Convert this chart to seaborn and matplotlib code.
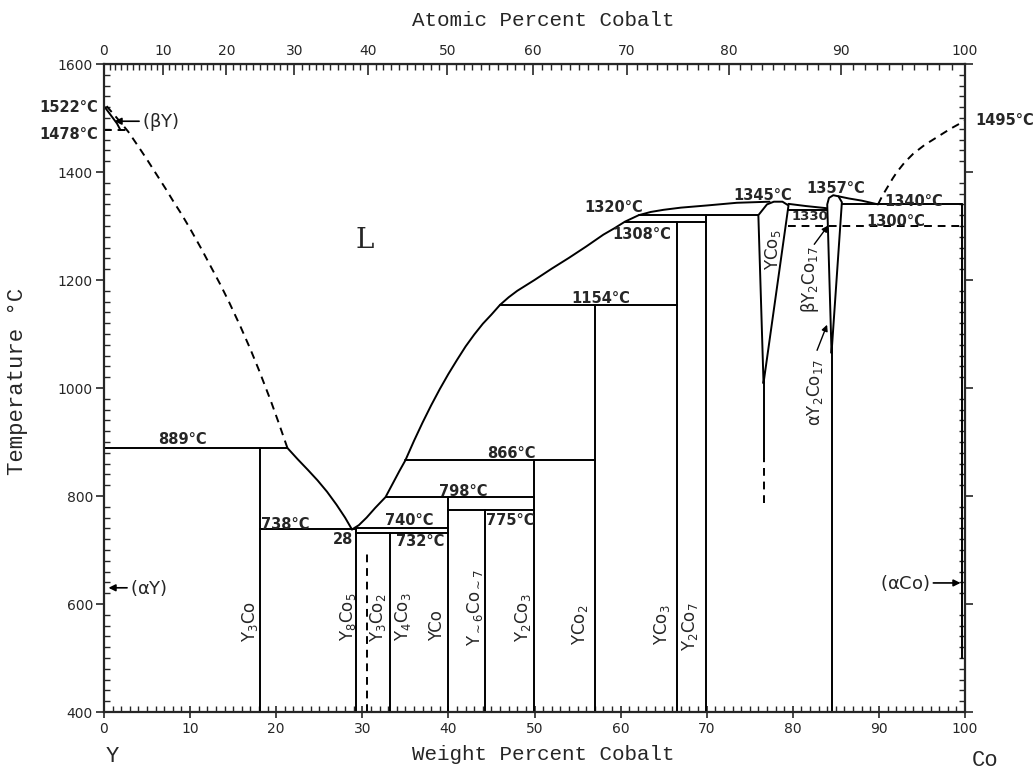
import numpy as np
import matplotlib
matplotlib.use('Agg')
import matplotlib.pyplot as plt
import matplotlib.ticker as mticker
from matplotlib import font_manager
import seaborn as sns

# ---- data: weight percent Co, temperature in deg C ----
# Y-side liquidus (dashed)
liq_y_x = [0.3, 1.5, 2.8, 4.0, 5.0, 6.0, 7.2, 8.0, 9.0, 10.0, 11.3, 12.5, 13.5, 14.5,
           15.9, 17.0, 18.0, 19.4, 20.3, 21.3]
liq_y_t = [1522, 1500, 1475, 1447, 1423, 1398, 1368, 1347, 1322, 1295, 1258, 1222, 1192, 1160,
           1112, 1072, 1033, 975, 935, 889]
# liquidus 889 -> 738 eutectic
liq_a_x = [21.3, 22.5, 23.7, 24.8, 25.9, 27.0, 28.0, 28.8]
liq_a_t = [889, 868, 848, 829, 808, 784, 760, 738]
# liquidus eutectic -> YCo5
liq_b_x = [28.8, 29.6, 30.5, 31.5, 32.7, 33.6, 34.3, 35.0, 36.0, 37.0, 38.0, 39.0, 40.0,
           41.0, 42.0, 43.0, 44.0, 45.0, 46.0, 47.0, 48.0, 50.0, 52.0, 54.0, 56.0, 58.0,
           59.3, 60.5, 62.1, 63.5, 65.0, 67.0, 70.0, 73.5, 77.3]
liq_b_t = [738, 746, 760, 778, 798, 825, 846, 866, 902, 936, 968, 998, 1026,
           1052, 1077, 1099, 1119, 1136, 1154, 1168, 1180, 1200, 1221, 1241, 1262, 1284,
           1296, 1308, 1320, 1326, 1330, 1334, 1338, 1343, 1345]
# YCo5 - Y2Co17 liquidus
liq_c_x = [79.5, 81.5, 83.9]
liq_c_t = [1341, 1337, 1333]
# Y2Co17 - Co liquidus
liq_d_x = [85.3, 86.5, 88.0, 89.9]
liq_d_t = [1355, 1351, 1347, 1340]
# Co-side liquidus (dashed)
liq_co_x = [89.9, 90.4, 91.0, 91.6, 92.1, 93.0, 94.0, 95.3, 96.8, 98.3, 100.0]
liq_co_t = [1340, 1356, 1372, 1388, 1400, 1418, 1434, 1450, 1465, 1480, 1495]

# (betaY) field
by_x = [0.0, 0.8, 1.5, 1.9]
by_t = [1522, 1505, 1490, 1478]

# YCo5 and Y2Co17 homogeneity ranges
yco5_x = [76.6, 76.0, 77.0, 77.8, 78.8, 79.5, 76.6]
yco5_t = [1009, 1320, 1340, 1345, 1345, 1338, 1009]
y2co17_x = [84.5, 84.0, 84.2, 84.7, 85.3, 85.7, 84.5]
y2co17_t = [1065, 1340, 1352, 1357, 1355, 1344, 1065]

# line compounds: composition and upper temperature
comp_x = [18.1, 29.3, 33.2, 40.0, 44.3, 49.9, 57.0, 66.5, 69.9, 84.5]
comp_top = [889, 740, 732, 798, 775, 866, 1154, 1308, 1320, 1065]
comp_names = ['Y$_3$Co', 'Y$_8$Co$_5$', 'Y$_4$Co$_3$', 'YCo', 'Y$_{\\sim6}$Co$_{\\sim7}$',
              'Y$_2$Co$_3$', 'YCo$_2$', 'YCo$_3$', 'Y$_2$Co$_7$', '']

# invariant lines
iso_t = [889, 738, 740, 732, 798, 775, 866, 1154, 1308, 1320, 1330, 1340]
iso_x0 = [0.0, 18.1, 29.3, 29.3, 32.7, 40.0, 35.0, 46.0, 60.5, 62.1, 79.5, 85.7]
iso_x1 = [21.3, 29.3, 40.0, 40.0, 49.9, 49.9, 57.0, 66.5, 69.9, 76.0, 84.0, 99.7]

W_Y, W_CO = 88.906, 58.933


def wt_to_at(w):
    w = np.asarray(w, dtype=float)
    a = w / W_CO
    b = (100.0 - w) / W_Y
    return 100.0 * a / (a + b)


def at_to_wt(x):
    x = np.asarray(x, dtype=float)
    a = x * W_CO
    b = (100.0 - x) * W_Y
    return 100.0 * a / (a + b)


names = {f.name for f in font_manager.fontManager.ttflist}
narrow = 'Liberation Sans Narrow' if 'Liberation Sans Narrow' in names else 'DejaVu Sans'
mono = 'Liberation Mono' if 'Liberation Mono' in names else 'DejaVu Sans Mono'

sns.set_style('ticks')
plt.rcParams['font.family'] = ['DejaVu Sans']
plt.rcParams['mathtext.default'] = 'regular'

fig = plt.figure(figsize=(10.35, 7.73), dpi=100)
ax = fig.add_axes([104 / 1035, 61 / 773, 861 / 1035, 648 / 773])

LW = 1.4


def line(xs, ys, dashed=False, lw=LW):
    sns.lineplot(x=xs, y=ys, sort=False, estimator=None, color='black', lw=lw,
                 linestyle=(0, (4, 3)) if dashed else '-', ax=ax, legend=False)


# liquidus curves
line(liq_y_x, liq_y_t, dashed=True)
line(liq_a_x, liq_a_t)
line(liq_b_x, liq_b_t)
line(liq_c_x, liq_c_t)
line(liq_d_x, liq_d_t)
line(liq_co_x, liq_co_t, dashed=True)
line(by_x, by_t)
line([0.0, 2.5], [1478, 1478], dashed=True)

# phase fields
line(yco5_x, yco5_t)
line(y2co17_x, y2co17_t)

# compounds
for x, top in zip(comp_x, comp_top):
    line([x, x], [400, top])
line([76.6, 76.6], [870, 1009])
line([76.6, 76.6], [787, 870], dashed=True)
line([30.6, 30.6], [400, 695], dashed=True)
line([99.7, 99.7], [500, 1340])

# isotherms
for t, x0, x1 in zip(iso_t, iso_x0, iso_x1):
    line([x0, x1], [t, t])
line([79.5, 100.0], [1300, 1300], dashed=True)

ax.set_xlim(0, 100)
ax.set_ylim(400, 1600)

# temperature labels
bold = dict(fontsize=10.5, fontweight='bold')
temp_labels = [
    ('889°C', 9.1, 904), ('738°C', 21.0, 748), ('740°C', 35.5, 754), ('732°C', 36.7, 715),
    ('798°C', 41.7, 809), ('775°C', 47.2, 754), ('866°C', 47.3, 878), ('1154°C', 57.7, 1165),
    ('1320°C', 59.2, 1335), ('1308°C', 62.5, 1285), ('1345°C', 76.5, 1357),
    ('1357°C', 85.0, 1369), ('1340°C', 94.0, 1346), ('1300°C', 91.9, 1309),
]
for s, x, y in temp_labels:
    ax.text(x, y, s, ha='center', va='center', **bold)
ax.text(82.0, 1317, '1330', fontsize=9.5, fontweight='bold', ha='center', va='center')
ax.text(27.8, 720, '28', ha='center', va='center', **bold)
ax.text(-0.7, 1520, '1522°C', ha='right', va='center', clip_on=False, **bold)
ax.text(-0.7, 1470, '1478°C', ha='right', va='center', clip_on=False, **bold)
ax.text(101.2, 1496, '1495°C', ha='left', va='center', clip_on=False, **bold)

# phase labels
arrow = dict(arrowstyle='-|>', color='black', lw=1.2, mutation_scale=10)
ax.text(30.3, 1274, 'L', fontsize=20, family='DejaVu Serif', ha='center', va='center')
ax.text(4.4, 1492, '($\\beta$Y)', fontsize=13, ha='left', va='center')
ax.annotate('', xy=(0.9, 1494), xytext=(4.4, 1494), arrowprops=arrow)
ax.text(3.0, 630, '($\\alpha$Y)', fontsize=13, ha='left', va='center')
ax.annotate('', xy=(0.2, 630), xytext=(3.0, 630), arrowprops=arrow)
ax.text(95.9, 639, '($\\alpha$Co)', fontsize=13, ha='right', va='center')
ax.annotate('', xy=(99.8, 639), xytext=(96.0, 639), arrowprops=arrow)

comp_label_pos = [(17.0, 567), (28.3, 576), (34.7, 576), (38.7, 560), (43.1, 593),
                  (48.7, 574), (55.3, 561), (64.8, 561), (68.1, 558)]
for name, (x, y) in zip(comp_names, comp_label_pos):
    ax.text(x, y, name, fontsize=12, rotation=90, ha='center', va='center')
ax.text(31.8, 574, 'Y$_3$Co$_2$', fontsize=12, rotation=90, ha='center', va='center')
ax.text(77.7, 1256, 'YCo$_5$', fontsize=12, rotation=90, ha='center', va='center')
ax.text(82.0, 1200, '$\\beta$Y$_2$Co$_{17}$', fontsize=12, rotation=90, ha='center', va='center')
ax.text(82.6, 991, '$\\alpha$Y$_2$Co$_{17}$', fontsize=12, rotation=90, ha='center', va='center')
small_arrow = dict(arrowstyle='-|>', color='black', lw=1.0, mutation_scale=9)
ax.annotate('', xy=(84.3, 1305), xytext=(82.3, 1262), arrowprops=small_arrow)
ax.annotate('', xy=(84.1, 1122), xytext=(82.7, 1065), arrowprops=small_arrow)

# axes, ticks
for sp in ax.spines.values():
    sp.set_linewidth(1.6)
    sp.set_visible(True)
ax.set_xticks(range(0, 101, 10))
ax.xaxis.set_minor_locator(mticker.MultipleLocator(1))
ax.set_yticks(range(400, 1601, 200))
ax.yaxis.set_minor_locator(mticker.MultipleLocator(20))
ax.tick_params(axis='x', which='major', direction='inout', length=8, width=1.2,
               labelsize=10, pad=3)
ax.tick_params(axis='x', which='minor', direction='in', length=4, width=1.0)
ax.tick_params(axis='y', which='major', direction='out', length=6, width=1.2,
               labelsize=10, pad=2, right=True)
ax.tick_params(axis='y', which='minor', direction='in', length=4, width=1.0, right=True)
for lab in ax.get_xticklabels() + ax.get_yticklabels():
    lab.set_family(narrow)

sec = ax.secondary_xaxis('top', functions=(wt_to_at, at_to_wt))
sec.set_xticks(range(0, 101, 10))
sec.xaxis.set_minor_locator(mticker.FixedLocator(range(0, 101)))
sec.tick_params(axis='x', which='major', direction='in', length=8, width=1.2, labelsize=10, pad=4)
sec.tick_params(axis='x', which='minor', direction='in', length=4, width=1.0)
for lab in sec.get_xticklabels():
    lab.set_family(narrow)

fig.text(0.525, 1 - 20 / 773, 'Atomic Percent Cobalt', family=mono, fontsize=15,
         ha='center', va='center')
fig.text(0.525, 1 - 755 / 773, 'Weight Percent Cobalt', family=mono, fontsize=15,
         ha='center', va='center')
fig.text(18 / 1035, 1 - 381 / 773, 'Temperature °C', family=mono, fontsize=16,
         rotation=90, ha='center', va='center')
fig.text(112 / 1035, 1 - 757 / 773, 'Y', family=mono, fontsize=16, ha='center', va='center')
fig.text(985 / 1035, 1 - 760 / 773, 'Co', family=mono, fontsize=16, ha='center', va='center')

fig.savefig('out.png', dpi=100, facecolor='white')
